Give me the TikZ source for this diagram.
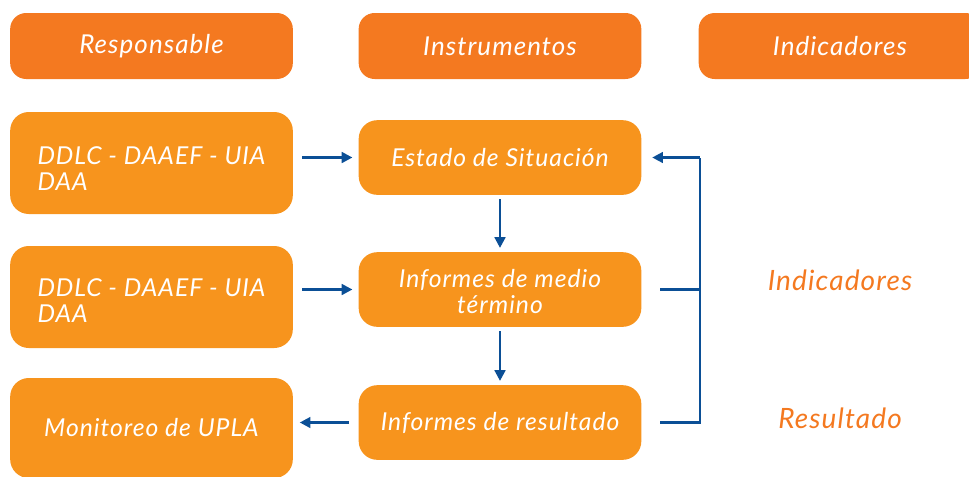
\documentclass[tikz,border=0pt]{standalone}
\usepackage{fontspec}
\setmainfont[LetterSpace=4]{Lato}
\usetikzlibrary{arrows.meta}
\definecolor{hdrorange}{HTML}{F47920}
\definecolor{boxorange}{HTML}{F7941D}
\definecolor{linkblue}{HTML}{0B4F96}

\begin{document}
\begin{tikzpicture}[x=0.75pt,y=0.75pt,yscale=-1,xscale=1,
  hdr/.style={fill=hdrorange,rounded corners=12pt,minimum width=212pt,minimum height=49.5pt,text=white,font=\fontsize{19.5}{22}\selectfont\itshape},
  cell/.style={fill=boxorange,rounded corners=14pt,minimum width=212pt,text=white,align=left,font=\fontsize{18.5}{19.5}\selectfont\itshape},
  flow/.style={draw=linkblue,line width=1.8pt,-{Triangle[length=8pt,width=8pt]}},
  link/.style={draw=linkblue,line width=1.8pt},
  tag/.style={text=hdrorange,font=\fontsize{21}{24}\selectfont\itshape}]
\useasboundingbox (0,0) rectangle (969,476);
\clip (0,0) rectangle (969,476);

% Headers
\node[hdr] (hresp) at (151.5,46) {Responsable};
\node[hdr] (hinst) at (500,46) {Instrumentos};
\node[hdr] (hind) at (840,46) {Indicadores};

% Responsables
\node[cell,minimum height=76.5pt] (r1) at (151.5,163) {\rule{0pt}{22pt}DDLC - DAAEF - UIA\\DAA};
\node[cell,minimum height=76.5pt] (r2) at (151.5,297) {\rule{0pt}{18pt}DDLC - DAAEF - UIA\\DAA};
\node[cell,minimum height=75pt] (r3) at (151.5,428) {Monitoreo de UPLA};

% Instrumentos
\node[cell,minimum height=56pt,align=center] (s1) at (500,157.5) {Estado de Situación};
\node[cell,minimum height=56pt,align=center] (s2) at (500,289.5) {\rule{0pt}{17pt}Informes de medio\\término};
\node[cell,minimum height=56pt,align=center] (s3) at (500,422.5) {Informes de resultado};

% Indicadores
\node[tag] (t1) at (840,280) {Indicadores};
\node[tag] (t2) at (840,418) {Resultado};

% Arrows
\draw[flow,shorten <=7pt,shorten >=4.5pt] (s1.west -| r1.east) -- (s1.west);
\draw[flow,shorten <=7pt,shorten >=4.5pt] (s2.west -| r2.east) -- (s2.west);
\draw[flow,shorten <=7pt,shorten >=5pt] (s3.west) -- (s3.west -| r3.east);
\draw[flow,shorten <=3pt,shorten >=3pt] (s1.south) -- (s2.north);
\draw[flow,shorten <=3pt,shorten >=3pt] (s2.south) -- (s3.north);

% Feedback
\coordinate (fb) at (700,0);
\draw[link,shorten <=14pt] (s2.east) -- (s2.east -| fb);
\draw[link,shorten <=14pt] (s3.east) -- (s3.east -| fb) -- (s1.east -| fb);
\draw[flow] (s1.east -| fb) -- ([xshift=8pt]s1.east);

\end{tikzpicture}
\end{document}
